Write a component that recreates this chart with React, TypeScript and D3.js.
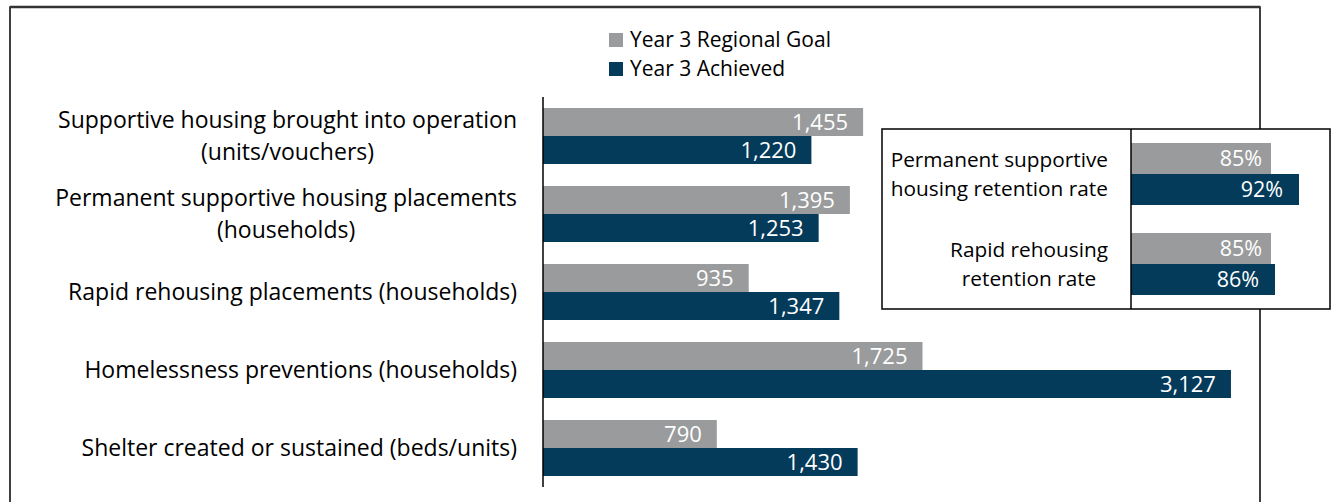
import React, { useEffect, useRef } from "react";
import * as d3 from "d3";

const categories = [
  ["Supportive housing brought into operation", "(units/vouchers)"],
  ["Permanent supportive housing placements", "(households)"],
  ["Rapid rehousing placements (households)"],
  ["Homelessness preventions (households)"],
  ["Shelter created or sustained (beds/units)"],
];
const goalValues = [1455, 1395, 935, 1725, 790];
const achievedValues = [1220, 1253, 1347, 3127, 1430];

const retentionCategories = [
  ["Permanent supportive", "housing retention rate"],
  ["Rapid rehousing", "retention rate"],
];
const retentionGoal = [85, 85];
const retentionAchieved = [92, 86];

const seriesNames = ["Year 3 Regional Goal", "Year 3 Achieved"];
const GRAY = "#9a9b9c";
const NAVY = "#043a5a";
const FONT = "'Open Sans', sans-serif";

export default function App() {
  const ref = useRef<SVGSVGElement>(null);

  useEffect(() => {
    const svg = d3.select(ref.current);
    svg.selectAll("*").remove();

    // outer frame
    svg.append("rect").attr("x", 10).attr("y", 7).attr("width", 1250).attr("height", 520)
      .attr("fill", "none").attr("stroke", "#000").attr("stroke-width", 1.5);
    svg.append("line").attr("x1", 10).attr("x2", 1260).attr("y1", 7).attr("y2", 7)
      .attr("stroke", "#333").attr("stroke-width", 2.5);

    // legend
    const lg = svg.append("g");
    seriesNames.forEach((n, i) => {
      const cy = 40 + i * 29;
      lg.append("rect").attr("x", 609).attr("y", cy - 7).attr("width", 14).attr("height", 14)
        .attr("fill", i === 0 ? GRAY : NAVY);
      lg.append("text").attr("x", 630).attr("y", cy).attr("dy", "0.35em")
        .attr("font-family", FONT).attr("font-size", 21).attr("fill", "#000").text(n);
    });

    // main chart
    const x = d3.scaleLinear().domain([0, 3500]).range([543, 1313]);
    const y = d3.scaleBand<number>().domain(d3.range(categories.length)).range([97, 487]).paddingInner(0).paddingOuter(0);
    const innerPad = 11;
    const main = svg.append("g");

    categories.forEach((lines, i) => {
      const band = y(i)!;
      const bh = (y.bandwidth() - innerPad * 2) / 2;
      const series = [goalValues[i], achievedValues[i]];
      series.forEach((v, s) => {
        const top = band + innerPad + s * bh;
        main.append("rect").attr("x", x(0)).attr("y", top).attr("width", x(v) - x(0)).attr("height", bh)
          .attr("fill", s === 0 ? GRAY : NAVY);
        main.append("text").attr("x", x(v) - 15).attr("y", top + bh / 2).attr("dy", "0.36em")
          .attr("text-anchor", "end").attr("font-family", FONT).attr("font-size", 22)
          .attr("fill", "#fff").text(d3.format(",")(v));
      });
      // label block: lines centered, block right-aligned
      const cy = band + y.bandwidth() / 2;
      const lh = 32;
      const g = main.append("g");
      const texts = lines.map((t, k) =>
        g.append("text").attr("y", cy + (k - (lines.length - 1) / 2) * lh).attr("dy", "0.35em")
          .attr("font-family", FONT).attr("font-size", 23).attr("fill", "#000").text(t)
      );
      const widths = texts.map((t) => (t.node() as SVGTextElement).getComputedTextLength());
      const maxW = Math.max(...widths);
      const center = 517 - maxW / 2;
      texts.forEach((t) => t.attr("x", center).attr("text-anchor", "middle"));
    });
    main.append("line").attr("x1", 543).attr("x2", 543).attr("y1", 97).attr("y2", 487)
      .attr("stroke", "#000").attr("stroke-width", 1.5);

    // inset
    const ins = svg.append("g");
    ins.append("rect").attr("x", 882).attr("y", 129).attr("width", 448).attr("height", 180)
      .attr("fill", "#fff").attr("stroke", "#000").attr("stroke-width", 1.5);
    const xi = d3.scaleLinear().domain([50, 100]).range([1131, 1331]);
    const yi = d3.scaleBand<number>().domain(d3.range(retentionCategories.length)).range([129, 309]);
    const pad2 = 14;
    retentionCategories.forEach((lines, i) => {
      const band = yi(i)!;
      const bh = (yi.bandwidth() - pad2 * 2) / 2;
      [retentionGoal[i], retentionAchieved[i]].forEach((v, s) => {
        const top = band + pad2 + s * bh;
        ins.append("rect").attr("x", xi(50)).attr("y", top).attr("width", xi(v) - xi(50)).attr("height", bh)
          .attr("fill", s === 0 ? GRAY : NAVY);
        ins.append("text").attr("x", xi(v) - (s === 0 ? 9 : 16)).attr("y", top + bh / 2).attr("dy", "0.36em")
          .attr("text-anchor", "end").attr("font-family", FONT).attr("font-size", 21.5)
          .attr("fill", "#fff").text(v + "%");
      });
      const cy = band + yi.bandwidth() / 2;
      const lh = 29;
      const texts = lines.map((t, k) =>
        ins.append("text").attr("y", cy + (k - (lines.length - 1) / 2) * lh).attr("dy", "0.35em")
          .attr("font-family", FONT).attr("font-size", 20.8).attr("fill", "#000").text(t)
      );
      const widths = texts.map((t) => (t.node() as SVGTextElement).getComputedTextLength());
      const maxW = Math.max(...widths);
      const center = 1108 - maxW / 2;
      texts.forEach((t) => t.attr("x", center).attr("text-anchor", "middle"));
    });
    ins.append("line").attr("x1", 1131).attr("x2", 1131).attr("y1", 129).attr("y2", 309)
      .attr("stroke", "#000").attr("stroke-width", 1.5);
  }, []);

  return (
    <svg ref={ref} width={1335} height={502}
      style={{ position: "absolute", left: 0, top: 0, background: "#fff" }} />
  );
}
